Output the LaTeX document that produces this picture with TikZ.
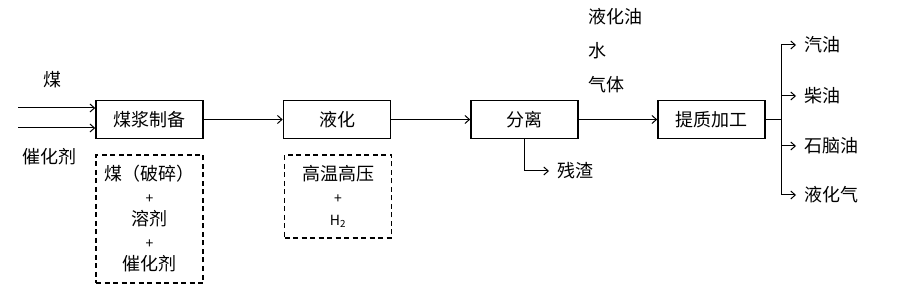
\documentclass[tikz,border=0pt]{standalone}
\usepackage{fontspec}
\setmainfont{Noto Sans CJK SC}
\usetikzlibrary{positioning, arrows.meta}
\newcommand{\plusfont}{\fontsize{14}{22.5}\selectfont}
\tikzset{
  procbox/.style={draw=black, line width=1.6pt, minimum width=107pt, minimum height=38pt,
    inner sep=0pt, font=\fontsize{18}{22}\selectfont},
  notebox/.style={draw=black, line width=1.6pt, dash pattern=on 5pt off 3.5pt, minimum width=107pt,
    inner sep=0pt, align=center, font=\fontsize{18}{22.5}\selectfont},
  flowarrow/.style={-{Straight Barb[length=4.5pt,width=8pt]}, line width=1pt},
  tag/.style={inner sep=0pt, font=\fontsize{18}{22}\selectfont},
}

\begin{document}
\begin{tikzpicture}[x=1pt, y=-1pt]
  \useasboundingbox (0,0) rectangle (898,294);
  % main process line
  \node[procbox] (prep) at (149.5,119.5) {煤浆制备};
  \node[procbox] (liq) at (337,119.5) {液化};
  \node[procbox] (sep) at (524.5,119.5) {分离};
  \node[procbox] (upg) at (711.5,119.5) {提质加工};
  % conditions
  \node[notebox, minimum height=128pt] (feed) at (149.5,219) {煤（破碎）\\ {\plusfont +}\\ 溶剂\\ {\plusfont +}\\ 催化剂};
  \node[notebox, minimum height=83pt] (cond) at (338,196.5) {高温高压\\ {\plusfont +}\\ {\plusfont H\textsubscript{2}}};
  % inputs
  \coordinate (coalin) at (18,108);
  \coordinate (catin) at (18,128);
  \node[tag] (coal) at (52,80) {煤};
  \node[tag] (cat) at (50,157) {催化剂};
  \draw[flowarrow] (coalin) -- (coalin -| prep.west);
  \draw[flowarrow] (catin) -- (catin -| prep.west);
  \draw[flowarrow] (prep) -- (liq);
  \draw[flowarrow] (liq) -- (sep);
  \draw[flowarrow] (sep) -- (upg);
  % residue
  \node[tag, anchor=west] (res) at (557,171) {残渣};
  \draw[flowarrow] (sep.south) |- ([xshift=-8pt]res.west);
  % separated products
  \node[tag, anchor=west] (oil) at (588,17) {液化油};
  \node[tag, anchor=west] (water) at (588,51) {水};
  \node[tag, anchor=west] (gas) at (588,85) {气体};
  % final products
  \coordinate (split) at (781,119.5);
  \node[tag, anchor=west] (p1) at (804,45) {汽油};
  \node[tag, anchor=west] (p2) at (804,96) {柴油};
  \node[tag, anchor=west] (p3) at (804,146) {石脑油};
  \node[tag, anchor=west] (p4) at (804,195) {液化气};
  \draw[line width=1.8pt] (upg.east) -- (split);
  \foreach \p in {p1,p2,p3,p4}
    \draw[flowarrow] (split) |- ([xshift=-8pt]\p.west);
\end{tikzpicture}
\end{document}
